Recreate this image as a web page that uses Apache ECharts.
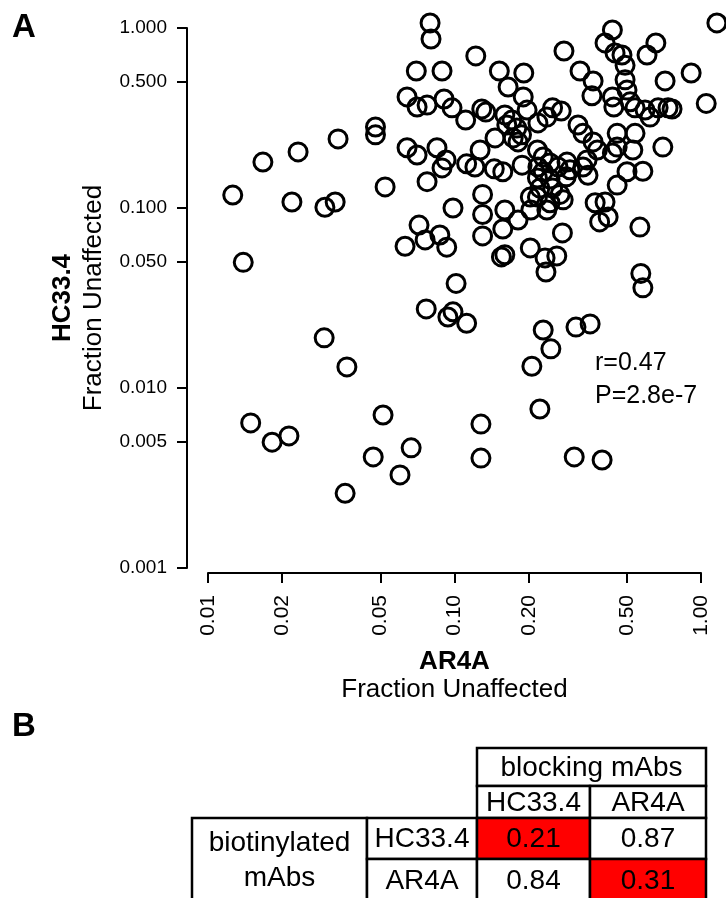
<!DOCTYPE html>
<html>
<head>
<meta charset="utf-8">
<script src="https://cdn.jsdelivr.net/npm/echarts@6.0.0/dist/echarts.min.js"></script>
<style>
  html, body { margin: 0; padding: 0; background: #fff; }
  #chart { width: 726px; height: 898px; }
</style>
</head>
<body>
<div id="chart"></div>
<script>
// Panel A: fraction unaffected for each sample, paired by index
const ar4a = [
  0.0126, 0.0139, 0.0167, 0.0232, 0.0219, 0.0298, 0.0328, 0.0337, 0.0478, 0.0478,
  0.0523, 0.0642, 0.0705, 0.0774, 0.0907, 0.0977, 0.111, 0.070, 0.089, 0.0796,
  0.0803, 0.122, 0.152, 0.191, 0.165, 0.190, 0.129, 0.134, 0.160, 0.171,
  0.163, 0.179, 0.146, 0.173, 0.181, 0.218, 0.237, 0.0642, 0.0705, 0.0849,
  0.0924, 0.089, 0.0774, 0.112, 0.127, 0.145, 0.157, 0.188, 0.217, 0.218,
  0.0986, 0.130, 0.130, 0.160, 0.181, 0.157, 0.130, 0.0718, 0.076, 0.0872,
  0.093, 0.063, 0.155, 0.160, 0.203, 0.233, 0.235, 0.1015, 0.0768, 0.094,
  0.0986, 0.112, 0.229, 0.246, 0.206, 0.311, 0.355, 0.581, 0.570, 0.0513,
  0.0468, 0.0667, 0.0601, 0.128, 0.128, 0.222, 0.306, 0.397, 0.0296, 0.0366,
  0.0149, 0.0182, 0.0213, 0.036, 0.187, 0.121, 0.229, 0.244, 0.229, 0.244,
  0.217, 0.222, 0.250, 0.268, 0.217, 0.244, 0.276, 0.237, 0.204, 0.203,
  0.263, 0.284, 0.294, 0.286, 0.260, 0.274, 0.250, 0.271, 0.197, 1.16,
  0.437, 0.408, 0.448, 0.478, 0.492, 0.656, 0.604, 0.278, 0.323, 0.365,
  0.361, 0.492, 0.501, 0.437, 0.443, 0.516, 0.540, 0.593, 0.621, 0.670,
  0.735, 0.763, 0.715, 0.912, 1.05, 0.700, 0.581, 0.540, 0.529, 0.457,
  0.457, 0.437, 0.501, 0.457, 0.317, 0.332, 0.365, 0.380, 0.348, 0.332,
  0.372, 0.408, 0.388, 0.420, 0.565, 0.345
]
const hc334 = [
  0.118, 0.0499, 0.180, 0.205, 0.108, 0.101, 0.108, 0.242, 0.282, 0.255,
  0.131, 0.414, 0.364, 0.373, 0.403, 0.360, 0.308, 0.577, 0.577, 1.067,
  0.869, 0.700, 0.577, 0.562, 0.470, 0.414, 0.355, 0.341, 0.329, 0.308,
  0.289, 0.278, 0.245, 0.245, 0.233, 0.297, 0.320, 0.216, 0.197, 0.216,
  0.185, 0.167, 0.140, 0.176, 0.210, 0.165, 0.159, 0.173, 0.210, 0.169,
  0.100, 0.119, 0.092, 0.0975, 0.0857, 0.0764, 0.070, 0.0804, 0.0665, 0.0708,
  0.0606, 0.0613, 0.0535, 0.055, 0.060, 0.0528, 0.0441, 0.0381, 0.0275, 0.0248,
  0.0265, 0.0229, 0.021, 0.0165, 0.0132, 0.0218, 0.0227, 0.036, 0.0433, 0.00708,
  0.00414, 0.00465, 0.00329, 0.0063, 0.00408, 0.00764, 0.00414, 0.00398, 0.019, 0.0131,
  0.0064, 0.0050, 0.00542, 0.0026, 0.255, 0.169, 0.192, 0.178, 0.159, 0.145,
  0.147, 0.129, 0.129, 0.119, 0.115, 0.107, 0.111, 0.0975, 0.0975, 0.115,
  0.169, 0.149, 0.163, 0.180, 0.0542, 0.0727, 0.360, 0.346, 0.350, 1.067,
  0.975, 0.826, 0.727, 0.708, 0.620, 0.826, 0.708, 0.745, 0.577, 0.508,
  0.420, 0.515, 0.452, 0.414, 0.364, 0.389, 0.360, 0.350, 0.320, 0.360,
  0.360, 0.355, 0.508, 0.562, 0.381, 0.218, 0.160, 0.260, 0.210, 0.260,
  0.218, 0.202, 0.159, 0.134, 0.289, 0.260, 0.233, 0.210, 0.152, 0.169,
  0.107, 0.108, 0.0837, 0.0891, 0.0783, 0.185
]
const xTicks = [0.01, 0.02, 0.05, 0.1, 0.2, 0.5, 1]
const yTicks = [0.001, 0.005, 0.01, 0.05, 0.1, 0.5, 1]
const statLines = ['r=0.47', 'P=2.8e-7']

// Panel B: competition table
const blockingMabs = ['HC33.4', 'AR4A']
const biotinylatedMabs = ['HC33.4', 'AR4A']
const blockValues = [
  [0.21, 0.87],
  [0.84, 0.31]
]

const FONT = '"Liberation Sans", Arial, Helvetica, sans-serif'
const chart = echarts.init(document.getElementById('chart'), null, { renderer: 'canvas' })

// table geometry
const colEdges = [477, 590, 706]
const rowEdges = [818, 859, 901]
const headTop = 748
const headMid = 786
const leftEdges = [192, 367]

function textEl(x, y, text, size, opts) {
  opts = opts || {}
  return {
    type: 'text',
    x: x,
    y: y,
    style: {
      text: text,
      fill: '#000',
      font: (opts.bold ? 'bold ' : '') + size + 'px ' + FONT,
      textAlign: opts.align || 'center',
      align: opts.align || 'center',
      textVerticalAlign: 'middle',
      verticalAlign: 'middle',
      lineHeight: opts.lineHeight
    },
    z: 10
  }
}

function cellEl(x0, y0, x1, y1, fill) {
  return {
    type: 'rect',
    shape: { x: x0, y: y0, width: x1 - x0, height: y1 - y0 },
    style: { fill: fill || '#fff', stroke: '#000', lineWidth: 2.5 },
    z: 5
  }
}

const tableEls = []
// header "blocking mAbs"
tableEls.push(cellEl(colEdges[0], headTop, colEdges[2], headMid))
tableEls.push(textEl((colEdges[0] + colEdges[2]) / 2, (headTop + headMid) / 2 + 1, 'blocking mAbs', 28))
blockingMabs.forEach((name, j) => {
  tableEls.push(cellEl(colEdges[j], headMid, colEdges[j + 1], rowEdges[0]))
  tableEls.push(textEl((colEdges[j] + colEdges[j + 1]) / 2, (headMid + rowEdges[0]) / 2 + 1, name, 28))
})
// left merged label
tableEls.push(cellEl(leftEdges[0], rowEdges[0], leftEdges[1], rowEdges[2]))
tableEls.push(textEl((leftEdges[0] + leftEdges[1]) / 2, 861, 'biotinylated\nmAbs', 28, { lineHeight: 35 }))
biotinylatedMabs.forEach((name, i) => {
  tableEls.push(cellEl(leftEdges[1], rowEdges[i], colEdges[0], rowEdges[i + 1]))
  tableEls.push(textEl((leftEdges[1] + colEdges[0]) / 2, (rowEdges[i] + rowEdges[i + 1]) / 2 + 1, name, 28))
  blockValues[i].forEach((v, j) => {
    // strong self-blocking (< 0.5) is highlighted in red
    tableEls.push(cellEl(colEdges[j], rowEdges[i], colEdges[j + 1], rowEdges[i + 1], v < 0.5 ? '#ff0000' : '#fff'))
    tableEls.push(textEl((colEdges[j] + colEdges[j + 1]) / 2, (rowEdges[i] + rowEdges[i + 1]) / 2 + 1, v.toFixed(2), 28))
  })
})

const option = {
  animation: false,
  backgroundColor: '#fff',
  textStyle: { fontFamily: FONT, color: '#000' },
  grid: { left: 208, right: 25, top: 28, bottom: 330, containLabel: false },
  xAxis: {
    type: 'log',
    logBase: 10,
    min: 0.01,
    max: 1,
    offset: 5,
    name: '{b|AR4A}\n{n|Fraction Unaffected}',
    nameLocation: 'middle',
    nameGap: 75,
    nameTextStyle: {
      rich: {
        b: { fontFamily: FONT, fontSize: 26, fontWeight: 'bold', lineHeight: 28, color: '#000' },
        n: { fontFamily: FONT, fontSize: 26, lineHeight: 28, color: '#000' }
      }
    },
    axisLine: { lineStyle: { color: '#000', width: 2 } },
    axisTick: { show: true, inside: false, length: 10, lineStyle: { color: '#000', width: 2 }, customValues: xTicks },
    axisLabel: {
      customValues: xTicks,
      rotate: 90,
      margin: 22,
      fontSize: 21,
      fontFamily: FONT,
      color: '#000',
      formatter: v => Number(v).toFixed(2)
    },
    splitLine: { show: false },
    minorTick: { show: false }
  },
  yAxis: {
    type: 'log',
    logBase: 10,
    min: 0.001,
    max: 1,
    offset: 21,
    name: '{b|HC33.4}\n{n|Fraction Unaffected}',
    nameLocation: 'middle',
    nameRotate: 90,
    nameGap: 78,
    nameTextStyle: {
      rich: {
        b: { fontFamily: FONT, fontSize: 26, fontWeight: 'bold', lineHeight: 31, color: '#000' },
        n: { fontFamily: FONT, fontSize: 26, lineHeight: 31, color: '#000' }
      }
    },
    axisLine: { show: true, lineStyle: { color: '#000', width: 2 } },
    axisTick: { show: true, inside: false, length: 10, lineStyle: { color: '#000', width: 2 }, customValues: yTicks },
    axisLabel: {
      customValues: yTicks,
      margin: 20,
      fontSize: 19,
      fontFamily: FONT,
      color: '#000',
      formatter: v => Number(v).toFixed(3)
    },
    splitLine: { show: false },
    minorTick: { show: false }
  },
  series: [{
    type: 'scatter',
    data: ar4a.map((x, i) => [x, hc334[i]]),
    symbol: 'circle',
    symbolSize: 18,
    clip: false,
    itemStyle: { color: 'rgba(0,0,0,0)', borderColor: '#000', borderWidth: 3, opacity: 1 },
    emphasis: { disabled: true }
  }],
  graphic: [
    textEl(12, 28, 'A', 33, { bold: true, align: 'left' }),
    textEl(12, 727, 'B', 33, { bold: true, align: 'left' }),
    textEl(595, 363, statLines[0], 25, { align: 'left' }),
    textEl(595, 396, statLines[1], 25, { align: 'left' })
  ].concat(tableEls)
}

chart.setOption(option)
</script>
</body>
</html>
